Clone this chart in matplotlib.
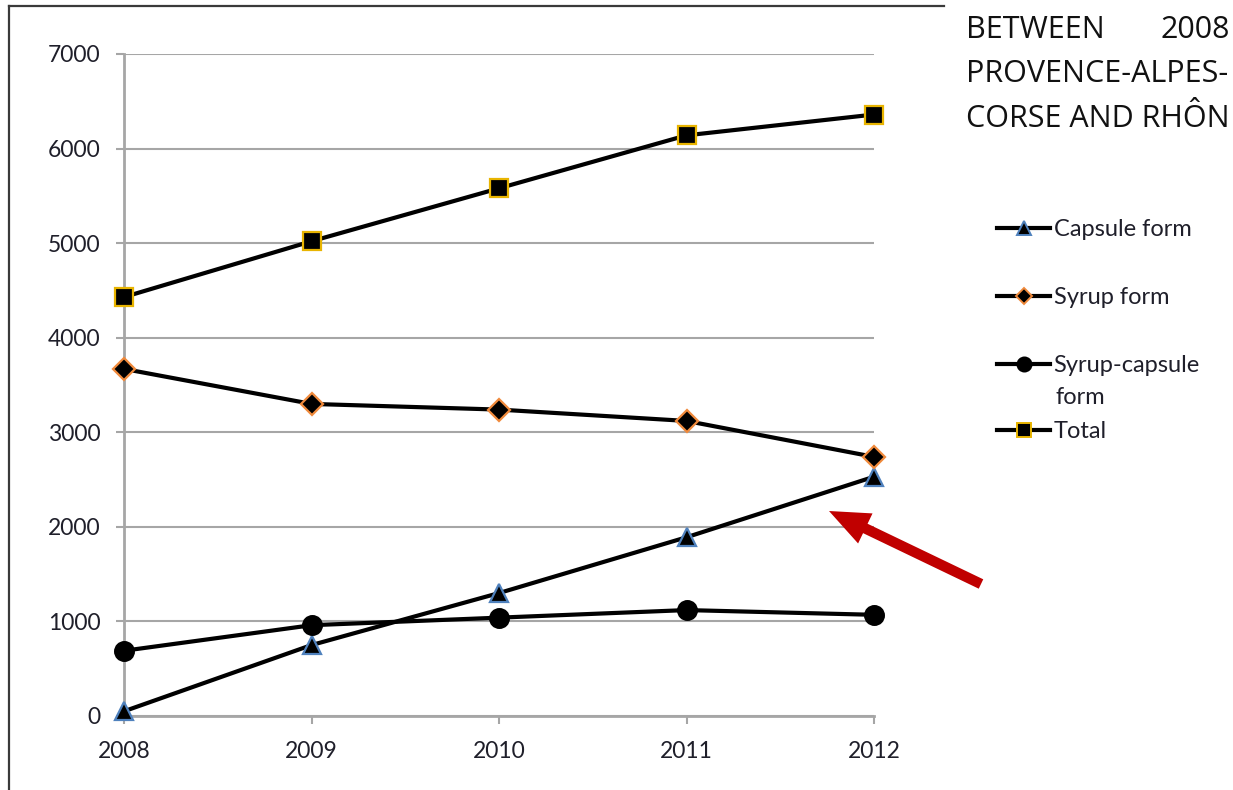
import matplotlib
matplotlib.use('Agg')
import matplotlib.pyplot as plt
from matplotlib.lines import Line2D
from matplotlib.patches import FancyArrowPatch

# Data
years = [2008, 2009, 2010, 2011, 2012]
capsule = [50, 750, 1300, 1890, 2530]
syrup = [3670, 3300, 3240, 3120, 2740]
syrup_capsule = [690, 960, 1040, 1120, 1070]
total = [4430, 5020, 5580, 6140, 6360]
yticks = [0, 1000, 2000, 3000, 4000, 5000, 6000, 7000]

plt.rcParams['font.family'] = ['Lato', 'DejaVu Sans']

W, H = 1233, 790
fig = plt.figure(figsize=(W / 100, H / 100), dpi=100)


def fx(px):
    return px / W


def fy(py):
    return 1 - py / H


ax = fig.add_axes([fx(124), fy(716), fx(874) - fx(124), fy(54) - fy(716)])

grid_c = '#a6a6a6'
txt_c = '#1f1f2a'
series = [
    (capsule, '^', '#4f81bd', 13, 'Capsule form'),
    (syrup, 'D', '#f08a3c', 11.5, 'Syrup form'),
    (syrup_capsule, 'o', 'black', 13.5, 'Syrup-capsule'),
    (total, 's', '#e8b400', 13, 'Total'),
]
lines = []
for vals, mk, ec, ms, lab in series:
    ln, = ax.plot(years, vals, color='black', lw=3, marker=mk, ms=ms,
                  mfc='black', mec=ec, mew=1.6, label=lab, zorder=3,
                  clip_on=False)
    lines.append(ln)

ax.set_xlim(2008, 2012)
ax.set_ylim(0, 7000)
ax.set_xticks(years)
ax.set_yticks(yticks)
ax.yaxis.grid(True, color=grid_c, lw=1.5)
ax.set_axisbelow(True)
for s in ['top', 'right']:
    ax.spines[s].set_visible(False)
for s in ['left', 'bottom']:
    ax.spines[s].set_color(grid_c)
    ax.spines[s].set_linewidth(2)
ax.tick_params(axis='both', colors=grid_c, length=6, width=1.5,
               labelcolor=txt_c, labelsize=16.5)
ax.tick_params(axis='y', pad=11)
ax.tick_params(axis='x', pad=12)

# Legend, one entry at a time to match spacing
leg_y = [230, 298, 366, 432]
for ln, y in zip(lines, leg_y):
    h = Line2D([], [], color='black', lw=3, marker=ln.get_marker(),
               ms=ln.get_markersize() * 0.75, mfc='black',
               mec=ln.get_markeredgecolor(), mew=1.4)
    lg = fig.legend([h], [ln.get_label()], loc='center left',
                    bbox_to_anchor=(fx(997), fy(y)), frameon=False,
                    fontsize=17, handlelength=2.25, handletextpad=0.15,
                    borderpad=0, borderaxespad=0)
    for t in lg.get_texts():
        t.set_color(txt_c)
fig.text(fx(1055), fy(398), 'form', fontsize=17, color=txt_c,
         va='center', ha='left')

# Title text on the right, as far as it is shown
tfont = dict(fontsize=22, color='#111111', va='center', ha='left',
             family=['Open Sans', 'DejaVu Sans'])
fig.text(fx(966), fy(30), 'BETWEEN', **tfont)
fig.text(fx(1160), fy(30), '2008', **tfont)
fig.text(fx(966), fy(74), 'PROVENCE-ALPES-', **tfont)
fig.text(fx(966), fy(119), 'CORSE AND RHÔN', **tfont)

# Chart border (left and top only)
fig.add_artist(Line2D([fx(9), fx(9)], [fy(6), -0.02], color='#3a3a3a',
                      lw=1.6, transform=fig.transFigure))
fig.add_artist(Line2D([fx(9), fx(944)], [fy(6), fy(6)], color='#3a3a3a',
                      lw=1.6, transform=fig.transFigure))

# Red arrow
arrow = FancyArrowPatch((fx(981), fy(584)), (fx(829), fy(511)),
                        transform=fig.transFigure,
                        arrowstyle='simple,head_length=2.9,head_width=2.4,tail_width=0.75',
                        mutation_scale=10, color='#c00000', lw=0,
                        shrinkA=0, shrinkB=0)
fig.add_artist(arrow)

fig.savefig('out.png', dpi=100)
